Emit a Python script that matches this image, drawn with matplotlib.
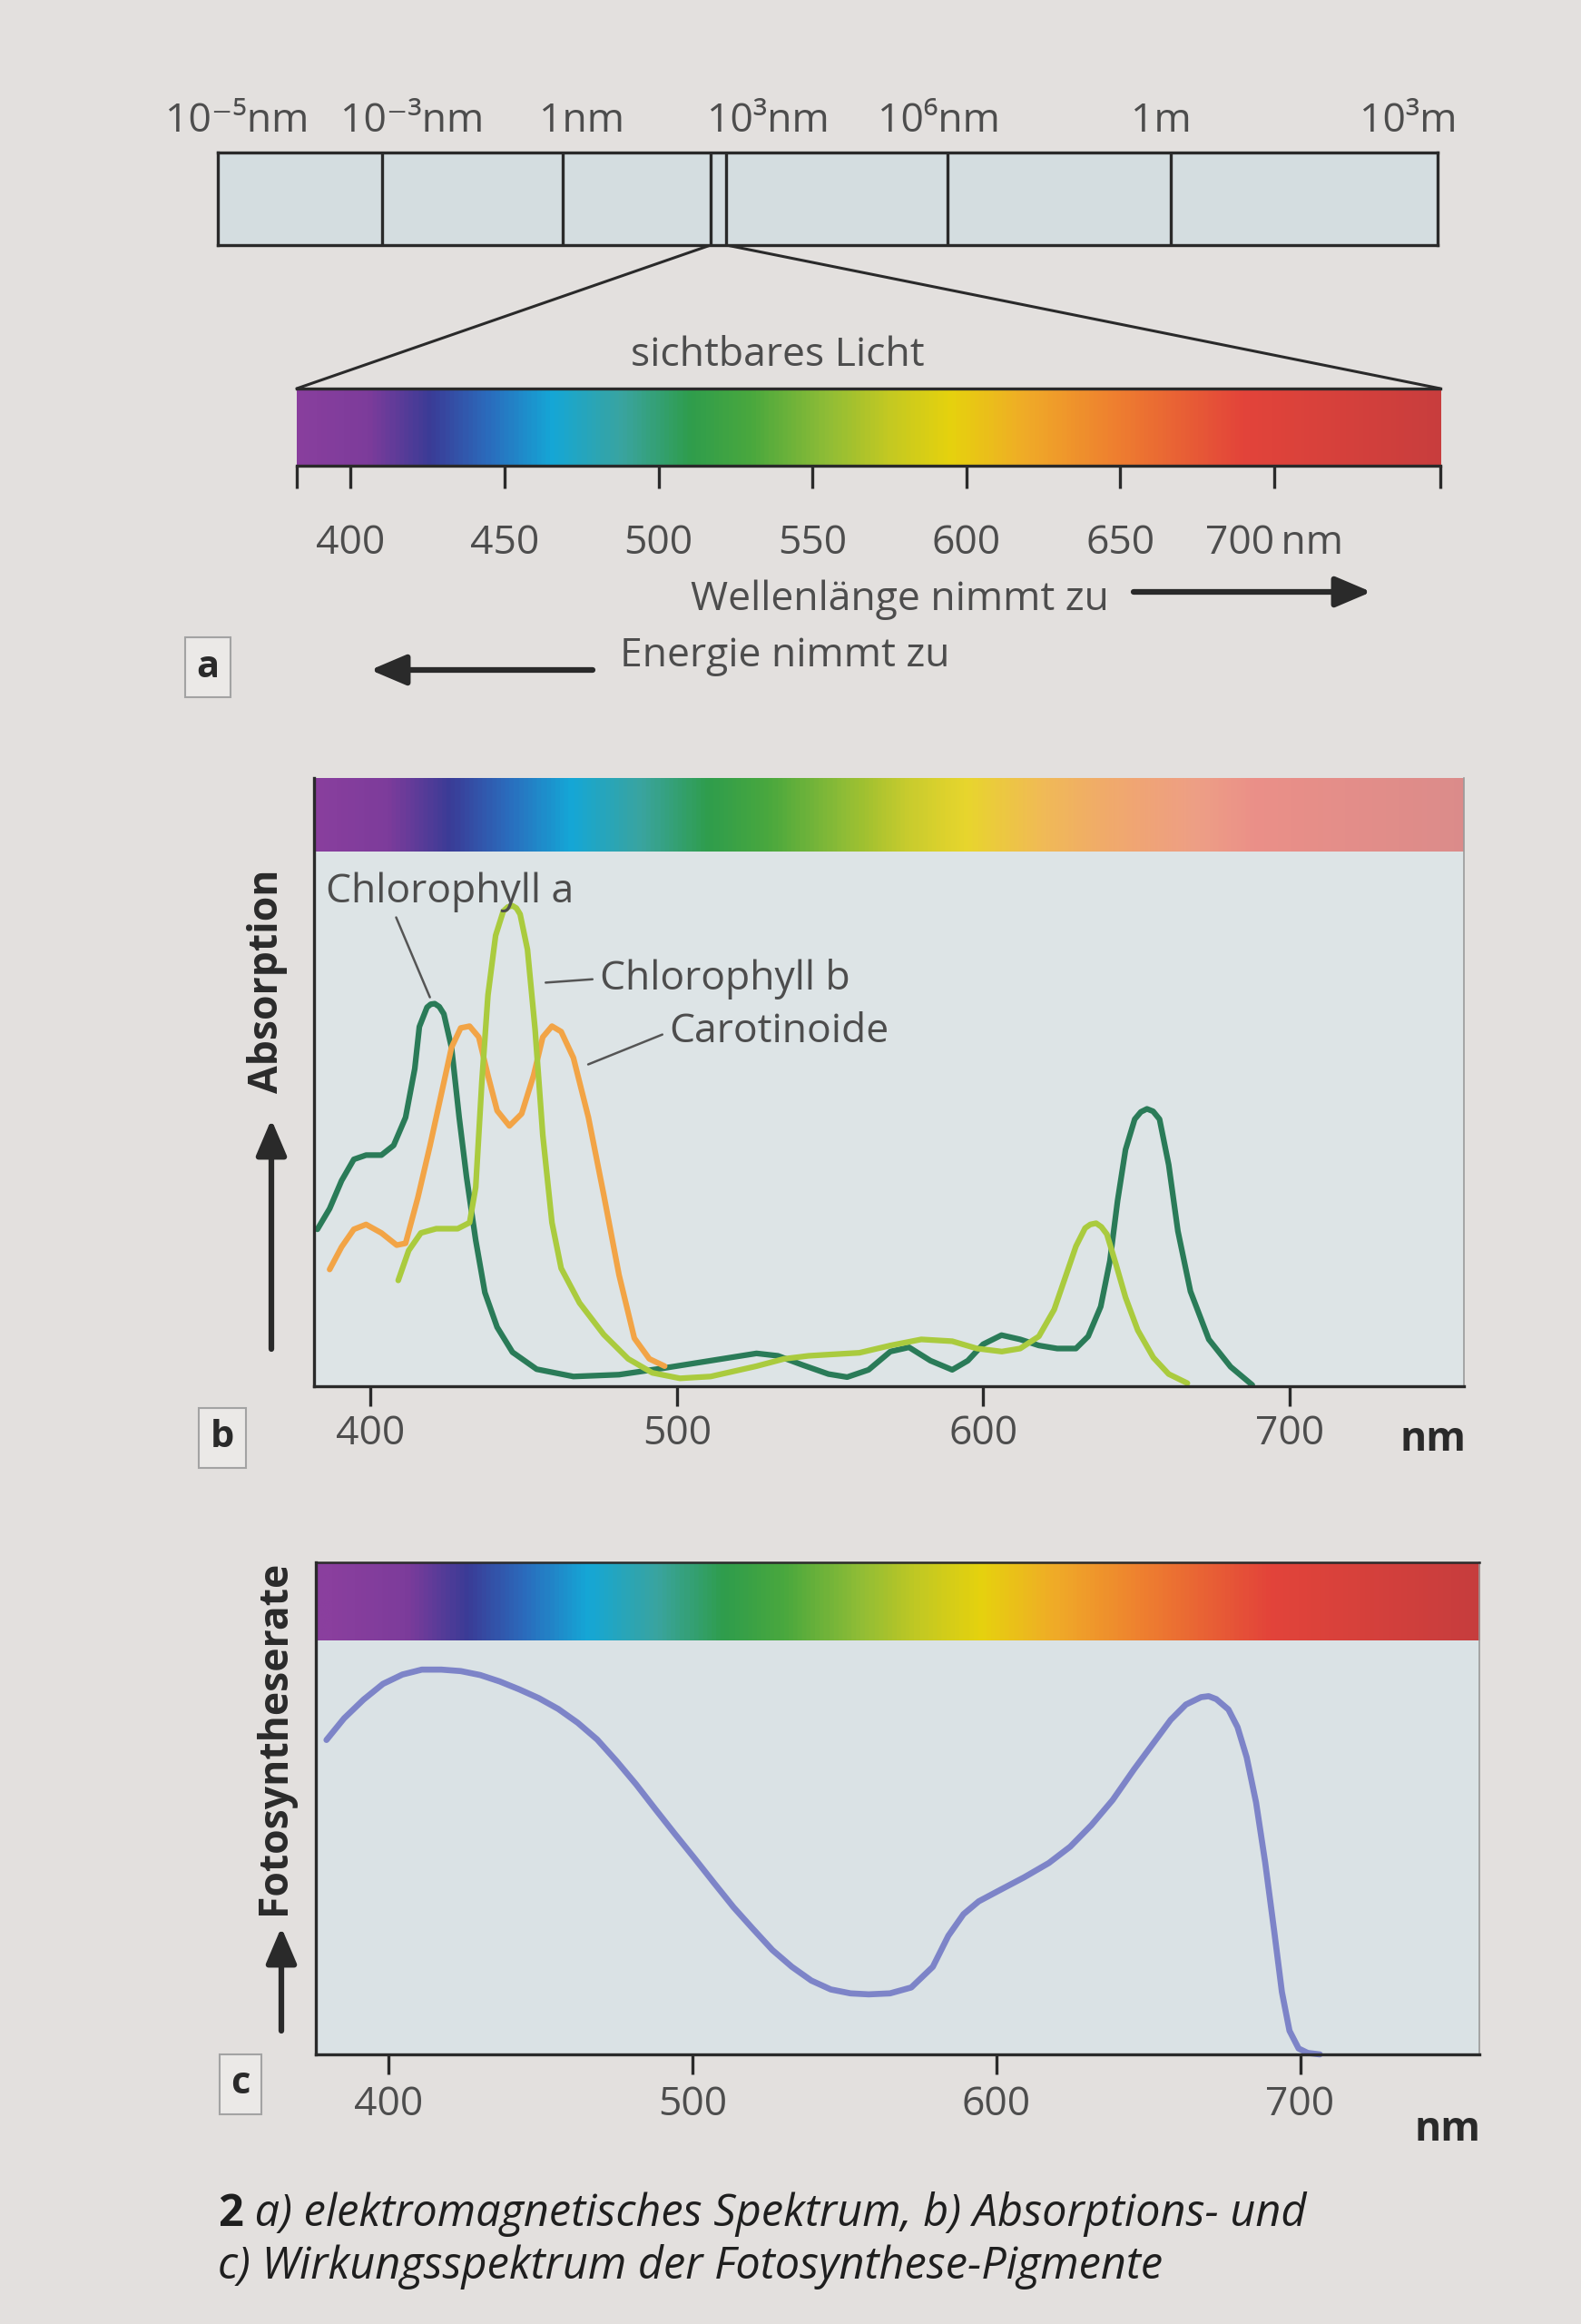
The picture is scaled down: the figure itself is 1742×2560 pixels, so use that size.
import numpy as np
import matplotlib.pyplot as plt
from matplotlib.colors import LinearSegmentedColormap, Normalize, to_rgb
from matplotlib.patches import ConnectionPatch

plt.rcParams['font.family'] = ['Open Sans', 'DejaVu Sans']

# ---------------- Daten ----------------
em_labels = ['10⁻⁵nm', '10⁻³nm', '1nm', '10³nm', '10⁶nm', '1m', '10³m']
vis_ticks = [400, 450, 500, 550, 600, 650, 700]
vis_tick_labels = ['400', '450', '500', '550', '600', '650', '700\u2009nm']
ab_ticks = [400, 500, 600, 700]

# b) Absorptionsspektren (relative Einheiten)
chl_a_nm = [382.6, 386.6, 390.5, 394.5, 398.5, 403.5, 407.5, 411.4, 414.4, 415.9,
            418.4, 419.6, 420.9, 422.4, 423.9, 426.4, 428.9, 431.3, 434.3, 437.3,
            441.3, 446.3, 454.2, 466.2, 481.1, 496, 511, 526, 533, 541,
            549.5, 555.6, 562.6, 569.7, 575.8, 582.8, 589.9, 595, 600, 606,
            612.1, 618.2, 624.2, 630.3, 634.3, 638.4, 641.4, 643.9, 646.5, 649.5,
            651.5, 653.5, 655.5, 657.6, 660.6, 663.6, 667.7, 673.7, 680.8, 687.9]
chl_a_abs = [0.258, 0.292, 0.338, 0.373, 0.38, 0.38, 0.396, 0.442, 0.522, 0.591,
             0.623, 0.628, 0.629, 0.624, 0.612, 0.557, 0.442, 0.344, 0.24, 0.154,
             0.097, 0.056, 0.028, 0.016, 0.019, 0.03, 0.042, 0.054, 0.05, 0.035,
             0.02, 0.015, 0.027, 0.057, 0.064, 0.042, 0.027, 0.042, 0.069, 0.084,
             0.077, 0.067, 0.062, 0.062, 0.082, 0.131, 0.206, 0.305, 0.389, 0.439,
             0.451, 0.456, 0.452, 0.439, 0.364, 0.255, 0.156, 0.077, 0.032, 0.002]

chl_b_nm = [409, 412.4, 416.4, 421.4, 428.4, 432.3, 434.3, 436.3, 438.3, 440.8,
            443.3, 444.8, 446.3, 447.6, 448.8, 451.2, 453.7, 456.2, 459.2, 462.2,
            468.2, 476.1, 484.1, 492, 501, 511, 526, 535, 543, 549.5,
            559.6, 569.7, 579.8, 589.9, 598, 606.1, 612.1, 618.2, 623.2, 627.3,
            630.3, 633.3, 635, 636.9, 638.6, 640.4, 643.4, 646.5, 650.5, 655.6,
            660.6, 666.7]
chl_b_abs = [0.174, 0.223, 0.252, 0.259, 0.259, 0.269, 0.327, 0.5, 0.643, 0.741,
             0.781, 0.788, 0.79, 0.786, 0.776, 0.718, 0.586, 0.413, 0.269, 0.194,
             0.137, 0.085, 0.045, 0.022, 0.013, 0.016, 0.033, 0.045, 0.05, 0.052,
             0.055, 0.067, 0.077, 0.074, 0.062, 0.057, 0.062, 0.082, 0.126, 0.186,
             0.23, 0.26, 0.266, 0.268, 0.262, 0.25, 0.2, 0.146, 0.092, 0.047,
             0.02, 0.005]

carot_nm = [386.6, 390.5, 394.5, 398.5, 403.5, 408.5, 411.4, 415.4, 419.4, 423.4,
            426.4, 429.4, 432.3, 435.3, 438.3, 441.3, 445.3, 449.3, 453.2, 456.2,
            459.2, 462.2, 466.2, 471.1, 476.1, 481.1, 486.1, 491, 496]
carot_abs = [0.192, 0.229, 0.258, 0.266, 0.252, 0.232, 0.235, 0.31, 0.396, 0.488,
             0.557, 0.589, 0.592, 0.574, 0.511, 0.453, 0.428, 0.448, 0.511, 0.574,
             0.592, 0.583, 0.54, 0.442, 0.315, 0.183, 0.079, 0.045, 0.033]

# c) Wirkungsspektrum
act_nm = [379.5, 385.3, 391.7, 398.1, 404.5, 410.9, 417.3, 423.7, 430.1, 436.5,
          442.9, 449.4, 455.8, 462.2, 468.6, 475, 481.4, 487.8, 494.2, 500.6,
          507, 513.5, 519.9, 526.3, 532.7, 539.1, 545.5, 552, 558, 565,
          572, 579.1, 584.2, 589.2, 594.2, 601.2, 609.2, 617.3, 624.3, 631.3,
          638.3, 645.3, 651.4, 657.4, 662.4, 667.4, 669.9, 672.4, 676.4, 679.4,
          682.4, 685.5, 688.5, 691.5, 694, 696.5, 699.5, 702.5, 706.5]
act_rate = [0.639, 0.683, 0.721, 0.753, 0.772, 0.782, 0.782, 0.779, 0.771, 0.758,
            0.742, 0.724, 0.702, 0.674, 0.64, 0.596, 0.549, 0.498, 0.448, 0.399,
            0.349, 0.299, 0.255, 0.212, 0.178, 0.15, 0.132, 0.124, 0.122, 0.124,
            0.136, 0.178, 0.241, 0.285, 0.311, 0.334, 0.36, 0.389, 0.422, 0.466,
            0.517, 0.579, 0.63, 0.68, 0.711, 0.726, 0.728, 0.722, 0.701, 0.665,
            0.604, 0.512, 0.39, 0.249, 0.127, 0.048, 0.012, 0.003, 0.0]

# ---------------- Farben ----------------
PAGE = '#e3e0de'
DARK = '#2a2a2a'
TEXT = '#4d4d4d'
PLOT_BG = '#dde4e6'
EM_FILL = '#d4dde0'
CHL_A = '#2a7b58'
CHL_B = '#aacb3e'
CAROT = '#f2a446'
ACT = '#7d84c8'

spec_stops = [(380, '#8a3f9e'), (405, '#7d3c9b'), (425, '#3b3b96'), (445, '#2a6ebe'),
              (465, '#15a7d6'), (488, '#3aa49f'), (510, '#2f9d4c'), (530, '#4aa83e'),
              (555, '#90bd36'), (575, '#c4c922'), (595, '#e6d20e'), (620, '#f0aa28'),
              (650, '#ee7d30'), (690, '#e3443a'), (760, '#c63d3e')]
spec_norm = Normalize(380, 760)
spec_cmap = LinearSegmentedColormap.from_list(
    'spek', [(spec_norm(w), c) for w, c in spec_stops])

W, H = 1742, 2560
fig = plt.figure(figsize=(17.42, 25.6), dpi=100, facecolor=PAGE)


def box(x0, y0, x1, y1):
    return [x0 / W, 1 - y1 / H, (x1 - x0) / W, (y1 - y0) / H]


ax0 = fig.add_axes([0, 0, 1, 1], zorder=0)
ax0.set_xlim(0, W)
ax0.set_ylim(H, 0)
ax0.axis('off')

arrow_kw = dict(arrowstyle='-|>,head_length=0.4,head_width=0.17', lw=4.5,
                color=DARK, mutation_scale=60, shrinkA=0, shrinkB=0)
lab_box = dict(boxstyle='square,pad=0.3', fc='#ebe9e7', ec='#a3a3a3', lw=1.5)

# ---------------- a) elektromagnetisches Spektrum ----------------
ax_em = fig.add_axes(box(240, 168, 1584, 270), zorder=1)
ax_em.set_facecolor(EM_FILL)
ax_em.set_xlim(0, 1)
ax_em.set_ylim(0, 1)
ax_em.set_xticks([])
ax_em.set_yticks([])
for s in ax_em.spines.values():
    s.set_linewidth(2.4)
    s.set_color(DARK)
em_div = [0.135, 0.283, 0.404, 0.417, 0.598, 0.781]
for d in em_div:
    ax_em.axvline(d, color=DARK, lw=2.4)
em_lab_x = [0.016, 0.159, 0.298, 0.451, 0.591, 0.773, 0.976]
for x, lab in zip(em_lab_x, em_labels):
    ax_em.text(x, 1.12, lab, ha='center', va='bottom', fontsize=32, color=TEXT,
               transform=ax_em.transAxes)

vis_lim = (382.5, 754)
ax_vis = fig.add_axes(box(327, 428, 1587, 513), zorder=1)
wl = np.linspace(vis_lim[0], vis_lim[1], 800)
ax_vis.imshow(wl[None, :], extent=[vis_lim[0], vis_lim[1], 0, 1], aspect='auto',
              cmap=spec_cmap, norm=spec_norm)
ax_vis.set_xlim(*vis_lim)
ax_vis.set_ylim(0, 1)
ax_vis.set_yticks([])
ax_vis.set_xticks(vis_ticks, vis_tick_labels)
ax_vis.set_xticks(list(vis_lim), minor=True)
ax_vis.tick_params(axis='x', which='both', direction='out', length=18, width=2.4,
                   color=DARK, labelsize=32, labelcolor=TEXT, pad=28)
for side in ['left', 'right']:
    ax_vis.spines[side].set_visible(False)
for side in ['top', 'bottom']:
    ax_vis.spines[side].set_linewidth(2.4)
    ax_vis.spines[side].set_color(DARK)

for xa, xb in [(em_div[2], vis_lim[0]), (em_div[3], vis_lim[1])]:
    con = ConnectionPatch(xyA=(xa, 0), coordsA=ax_em.transData,
                          xyB=(xb, 1), coordsB=ax_vis.transData,
                          color=DARK, lw=2.2)
    fig.add_artist(con)

ax0.text(857, 392, 'sichtbares Licht', ha='center', va='center', fontsize=32, color=TEXT)
ax0.text(991, 661, 'Wellenlänge nimmt zu', ha='center', va='center', fontsize=32, color=TEXT)
ax0.annotate('', xy=(1511, 652), xytext=(1249, 652), arrowprops=arrow_kw)
ax0.annotate('', xy=(408, 738), xytext=(653, 738), arrowprops=arrow_kw)
ax0.text(683, 723, 'Energie nimmt zu', ha='left', va='center', fontsize=32, color=TEXT)
ax0.text(229, 735, 'a', ha='center', va='center', fontsize=30, weight='bold',
         color=DARK, bbox=lab_box)

# ---------------- b) Absorptionsspektren ----------------
b_lim = (381.5, 757)
ax_b = fig.add_axes(box(346, 857, 1613, 1527), zorder=1)
ax_b.set_facecolor(PLOT_BG)
wl_b = np.linspace(b_lim[0], b_lim[1], 800)
cols = spec_cmap(spec_norm(wl_b))[:, :3]
fade = np.clip((wl_b - 560) / 110, 0, 1)[:, None] * 0.45
cols = cols * (1 - fade) + np.array(to_rgb('#f4ece8')) * fade
ax_b.imshow(cols[None, :, :], extent=[b_lim[0], b_lim[1], 0.879, 1.0], aspect='auto')
line_kw = dict(lw=4.5, solid_capstyle='round', solid_joinstyle='round')
ax_b.plot(chl_a_nm, chl_a_abs, color=CHL_A, **line_kw)
ax_b.plot(carot_nm, carot_abs, color=CAROT, **line_kw)
ax_b.plot(chl_b_nm, chl_b_abs, color=CHL_B, **line_kw)
ax_b.set_xlim(*b_lim)
ax_b.set_ylim(0, 1)
ax_b.set_yticks([])
ax_b.set_xticks(ab_ticks)
ax_b.tick_params(axis='x', direction='out', length=16, width=2.4, color=DARK,
                 labelsize=32, labelcolor=TEXT, pad=6)
ax_b.spines['top'].set_visible(False)
ax_b.spines['right'].set_color('#9a9a9a')
ax_b.spines['right'].set_linewidth(1.2)
for side in ['left', 'bottom']:
    ax_b.spines[side].set_color(DARK)
    ax_b.spines[side].set_linewidth(2.4)

lead = dict(arrowstyle='-', color='#555555', lw=1.8)
ax_b.annotate('Chlorophyll a', xy=(420.3, 0.628), xytext=(385.5, 0.812),
              ha='left', va='center', fontsize=32, color=TEXT,
              arrowprops=dict(lead, relpos=(0.27, 0.05), shrinkA=2, shrinkB=6))
ax_b.annotate('Chlorophyll b', xy=(455.5, 0.663), xytext=(474.9, 0.67),
              ha='left', va='center', fontsize=32, color=TEXT,
              arrowprops=dict(lead, relpos=(0, 0.5), shrinkA=4, shrinkB=4))
ax_b.annotate('Carotinoide', xy=(469.5, 0.526), xytext=(497.6, 0.583),
              ha='left', va='center', fontsize=32, color=TEXT,
              arrowprops=dict(lead, relpos=(0, 0.5), shrinkA=4, shrinkB=4))

ax0.text(294, 1081, 'Absorption', rotation=90, ha='center', va='center',
         fontsize=32, weight='bold', color=DARK)
ax0.annotate('', xy=(299, 1233), xytext=(299, 1486), arrowprops=arrow_kw)
ax0.text(245, 1584, 'b', ha='center', va='center', fontsize=30, weight='bold',
         color=DARK, bbox=lab_box)
ax0.text(1579, 1587, 'nm', ha='center', va='center', fontsize=32, weight='bold', color=DARK)

# ---------------- c) Wirkungsspektrum ----------------
c_lim = (376, 759)
ax_c = fig.add_axes(box(348, 1721, 1630, 2263), zorder=1)
ax_c.set_facecolor('#dae2e5')
wl_c = np.linspace(c_lim[0], c_lim[1], 800)
ax_c.imshow(wl_c[None, :], extent=[c_lim[0], c_lim[1], 0.842, 1.0], aspect='auto',
            cmap=spec_cmap, norm=spec_norm)
ax_c.plot(act_nm, act_rate, color=ACT, lw=4.8, solid_capstyle='round',
          solid_joinstyle='round', clip_on=False)
ax_c.set_xlim(*c_lim)
ax_c.set_ylim(0, 1)
ax_c.set_yticks([])
ax_c.set_xticks(ab_ticks)
ax_c.tick_params(axis='x', direction='out', length=16, width=2.4, color=DARK,
                 labelsize=32, labelcolor=TEXT, pad=8)
ax_c.spines['right'].set_color('#9a9a9a')
ax_c.spines['right'].set_linewidth(1.2)
for side in ['left', 'bottom', 'top']:
    ax_c.spines[side].set_color(DARK)
    ax_c.spines[side].set_linewidth(2.4)
ax_c.spines['top'].set_linewidth(1.8)

ax0.text(302, 1914, 'Fotosyntheserate', rotation=90, ha='center', va='center',
         fontsize=32, weight='bold', color=DARK)
ax0.annotate('', xy=(310, 2123), xytext=(310, 2237), arrowprops=arrow_kw)
ax0.text(265, 2296, 'c', ha='center', va='center', fontsize=30, weight='bold',
         color=DARK, bbox=lab_box)
ax0.text(1595, 2347, 'nm', ha='center', va='center', fontsize=32, weight='bold', color=DARK)

# ---------------- Bildunterschrift ----------------
t1 = ax0.text(240, 2464, '2', ha='left', va='bottom', fontsize=35, weight='bold',
              color='#1e1e1e')
ax0.annotate(' a) elektromagnetisches Spektrum, b) Absorptions- und',
             xy=(1, 0), xycoords=t1, ha='left', va='bottom', fontsize=35,
             style='italic', color='#1e1e1e')
ax0.text(240, 2497, 'c) Wirkungsspektrum der Fotosynthese-Pigmente', ha='left',
         va='center', fontsize=35, style='italic', color='#1e1e1e')

fig.savefig('out.png', dpi=100, facecolor=PAGE)
